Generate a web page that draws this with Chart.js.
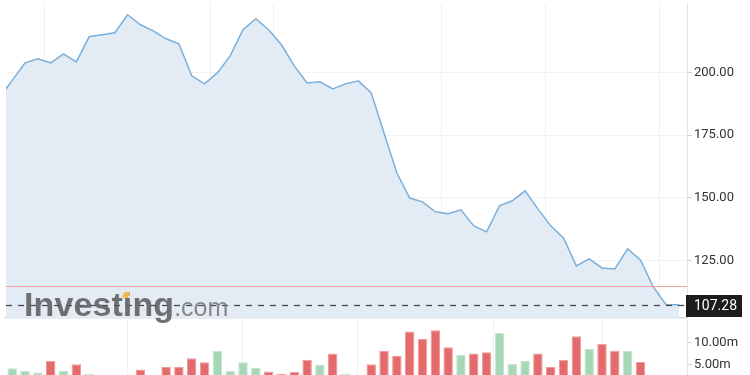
<!DOCTYPE html>
<html>
<head>
<meta charset="utf-8">
<script src="https://cdn.jsdelivr.net/npm/chart.js@4/dist/chart.umd.min.js"></script>
<style>
  html, body { margin: 0; padding: 0; background: #fff; }
  #wrap { position: relative; width: 750px; height: 375px; overflow: hidden; }
  #priceBox { position: absolute; left: 0; top: 0; width: 750px; height: 320px; }
  #volBox { position: absolute; left: 0; top: 318px; width: 750px; height: 57px; }
  #logo { position: absolute; left: 24px; top: 285px; font-family: "Liberation Sans", Arial, sans-serif;
          color: #5e5e5e; opacity: 0.88; white-space: nowrap; pointer-events: none; }
  #logo .inv { font-size: 34px; font-weight: bold; letter-spacing: 0.1px; }
  #logo .com { font-size: 25px; color: #7a7a7a; }
  #logo .dot { position: absolute; left: 99px; top: 7px; width: 6px; height: 6px; background: #f2b63c;
               transform: skewX(-20deg); }
</style>
</head>
<body>
<div id="wrap">
  <div id="priceBox"><canvas id="price"></canvas></div>
  <div id="volBox"><canvas id="volume"></canvas></div>
  <div id="logo"><span class="inv">Investing</span><span class="com">.com</span><span class="dot"></span></div>
</div>
<script>
// closing prices, one per session (first one sits just off the left edge)
const prices = [189.9, 196.9, 203.9, 205.5, 203.9, 207.5, 204.3, 214.3, 215.1, 215.9,
  223.1, 219.1, 216.7, 213.5, 211.5, 198.7, 195.5, 199.9, 206.7, 217.1,
  221.5, 217.1, 211.1, 202.7, 195.9, 196.3, 193.5, 195.5, 196.7, 191.9,
  175.9, 159.9, 149.9, 148.4, 144.4, 143.6, 145.2, 138.8, 136.4, 146.8,
  148.8, 152.8, 145.6, 138.8, 134.0, 122.8, 125.6, 122.0, 121.6, 129.6,
  125.2, 114.4, 107.28, 107.28];

// volume in millions
const volumes = [2.0, 4.25, 3.7, 3.3, 5.9, 3.7, 5.15, 2.95, 2.2, 2.4,
  2.3, 4.0, 2.5, 4.55, 4.55, 6.5, 5.6, 8.2, 3.7, 5.6,
  4.3, 3.5, 3.0, 3.45, 6.2, 5.1, 7.6, 3.0, 2.5, 5.15,
  8.2, 7.05, 12.6, 10.9, 12.9, 9.0, 7.3, 7.6, 7.9, 12.3,
  5.3, 5.9, 7.6, 4.55, 6.2, 11.5, 8.7, 9.8, 8.2, 8.2,
  5.7, 2.5, 2.5, 2.0];

const priceTicks = [125, 150, 175, 200];
const volTicks = [5, 10];
const monthLines = [3.5, 16.5, 21.4, 34.5, 42.6, 51.5];
const lastPrice = 107.28;
const alertLevel = 114.8;

const xMin = 0.515, xMax = 53.63;
const AXIS_W = 63;

Chart.defaults.font.family = "Roboto, 'Liberation Sans', Arial, sans-serif";
Chart.defaults.font.size = 13;
Chart.defaults.color = "#333";

const xAxis = (withBorder) => ({
    type: "linear",
    min: xMin,
    max: xMax,
    afterBuildTicks: s => { s.ticks = monthLines.map(v => ({ value: v })); },
    afterFit: s => { s.height = 0; s.paddingLeft = 0; s.paddingRight = 0; },
    ticks: { display: false },
    grid: { color: "#eef0f2", drawTicks: false },
    border: withBorder ? { display: true, color: "#d6d9dc", width: 1.5 } : { display: false }
});

const levels = {
    id: "levels",
    afterDatasetsDraw(chart) {
        const { ctx, chartArea: a, scales: { y } } = chart;
        ctx.save();
        const yr = Math.round(y.getPixelForValue(alertLevel)) + 0.5;
        ctx.strokeStyle = "#f3a0a0";
        ctx.lineWidth = 1;
        ctx.beginPath(); ctx.moveTo(a.left, yr); ctx.lineTo(a.right, yr); ctx.stroke();

        const yl = Math.round(y.getPixelForValue(lastPrice)) + 0.5;
        ctx.strokeStyle = "#4a4a4a";
        ctx.lineWidth = 1.3;
        ctx.setLineDash([6, 6]);
        ctx.beginPath(); ctx.moveTo(a.left, yl); ctx.lineTo(a.right, yl); ctx.stroke();
        ctx.setLineDash([]);

        ctx.fillStyle = "#1c1c1c";
        ctx.fillRect(a.right - 1, yl - 10.5, 56, 22);
        ctx.fillStyle = "#fff";
        ctx.font = "14px Roboto, 'Liberation Sans', Arial, sans-serif";
        ctx.textBaseline = "middle";
        ctx.fillText(lastPrice.toFixed(2), a.right + 7, yl + 1);
        ctx.restore();
    }
};

new Chart(document.getElementById("price"), {
    type: "line",
    data: {
        datasets: [{
            data: prices.map((p, i) => ({ x: i, y: p })),
            borderColor: "#7aafdb",
            borderWidth: 1.5,
            backgroundColor: "#e3ecf5",
            fill: "start",
            pointRadius: 0,
            tension: 0
        }]
    },
    options: {
        animation: false,
        responsive: true,
        maintainAspectRatio: false,
        layout: { padding: { left: 6, top: 3, right: 0, bottom: 2 } },
        plugins: { legend: { display: false }, tooltip: { enabled: false } },
        scales: {
            x: xAxis(true),
            y: {
                position: "right",
                min: 102.0,
                max: 227.8,
                afterBuildTicks: s => { s.ticks = priceTicks.map(v => ({ value: v })); },
                afterFit: s => { s.width = AXIS_W; s.paddingTop = 0; s.paddingBottom = 0; },
                ticks: { padding: 2, callback: v => v.toFixed(2) },
                grid: { color: "#f0f2f4", tickLength: 5, tickColor: "#cfd3d6" },
                border: { display: true, color: "#e2e4e6" }
            }
        }
    },
    plugins: [levels]
});

new Chart(document.getElementById("volume"), {
    type: "bar",
    data: {
        datasets: [{
            data: volumes.map((v, i) => ({ x: i, y: v })),
            backgroundColor: volumes.map((v, i) => i > 0 && prices[i] >= prices[i - 1] ? "#a6d8b8" : "#e46b6b"),
            borderColor: volumes.map((v, i) => i > 0 && prices[i] >= prices[i - 1] ? "#c4e6cf" : "#f09a9a"),
            borderWidth: 1,
            barPercentage: 0.74,
            categoryPercentage: 1
        }]
    },
    options: {
        animation: false,
        responsive: true,
        maintainAspectRatio: false,
        layout: { padding: { left: 6, top: 2, right: 0, bottom: 0 } },
        plugins: { legend: { display: false }, tooltip: { enabled: false } },
        scales: {
            x: { ...xAxis(false), offset: false },
            y: {
                position: "right",
                min: 2.73,
                max: 15.2,
                afterBuildTicks: s => { s.ticks = volTicks.map(v => ({ value: v })); },
                afterFit: s => { s.width = AXIS_W; s.paddingTop = 0; s.paddingBottom = 0; },
                ticks: { padding: 2, callback: v => v.toFixed(2) + "m" },
                grid: { drawOnChartArea: false, tickLength: 5, tickColor: "#cfd3d6" },
                border: { display: true, color: "#e2e4e6" }
            }
        }
    }
});
</script>
</body>
</html>
